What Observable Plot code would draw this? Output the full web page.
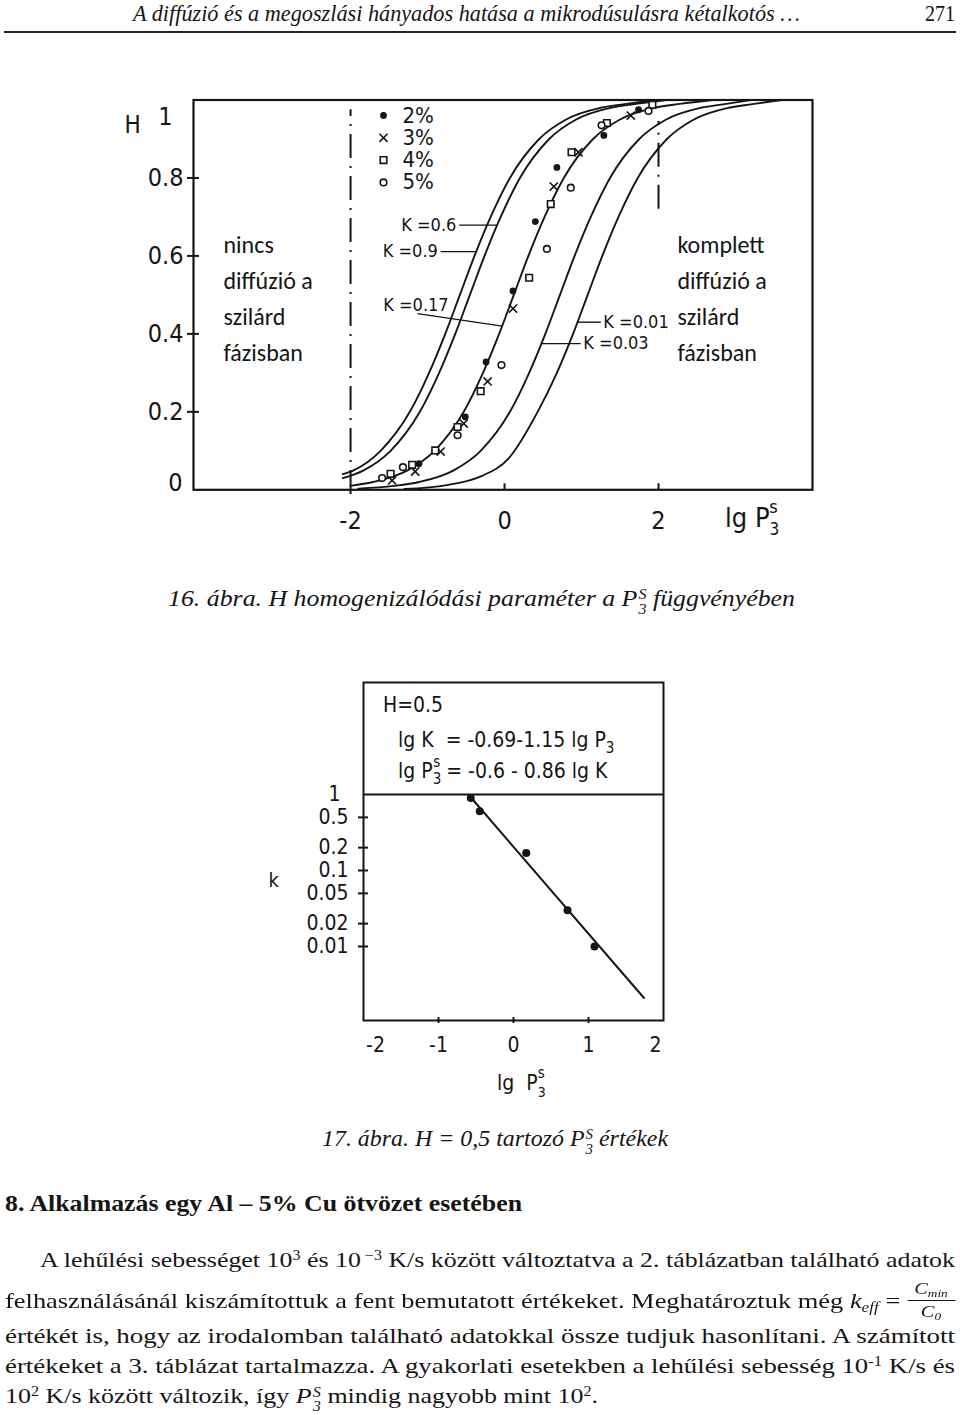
<!DOCTYPE html>
<html>
<head>
<meta charset="utf-8">
<script src="https://cdn.jsdelivr.net/npm/d3@7"></script>
<script src="https://cdn.jsdelivr.net/npm/@observablehq/plot@0.6"></script>
<style>
html,body{margin:0;padding:0;background:#fff;}
#page{position:relative;width:960px;height:1415px;overflow:hidden;color:#151515;font-family:"Liberation Serif","Times New Roman",serif;}
.t{position:absolute;white-space:nowrap;line-height:26px;font-size:22px;transform-origin:0 0;}
.t sup{font-size:0.62em;vertical-align:0.55em;line-height:0;}
.t sub{font-size:0.65em;vertical-align:-0.25em;line-height:0;}
.ps{display:inline-flex;flex-direction:column;font-size:0.62em;line-height:1.0;vertical-align:0.45em;margin-left:1px;font-style:italic;}
.ps span{display:block;}
.frac{display:inline-block;position:relative;width:40px;height:10px;vertical-align:baseline;font-style:italic;}
.frac .num{position:absolute;left:0;right:0;text-align:center;bottom:11px;font-size:17px;line-height:17px;}
.frac .den{position:absolute;left:0;right:0;text-align:center;top:2px;padding-top:2px;font-size:17px;line-height:17px;border-top:1.5px solid #151515;}
.rule{position:absolute;left:4px;width:952px;top:31px;height:2px;background:#222;}
.chart{position:absolute;left:0;}
</style>
</head>
<body>
<div id="page">
  <div class="t" id="hdr"><i>A diffúzió és a megoszlási hányados hatása a mikrodúsulásra kétalkotós …</i></div>
  <div class="t" id="pgno">271</div>
  <div class="rule"></div>
  <div class="chart" id="c1" style="top:60px"></div>
  <div class="t" id="cap16"><i>16. ábra. H homogenizálódási paraméter a P</i><span class="ps"><span>S</span><span>3</span></span><i> függvényében</i></div>
  <div class="chart" id="c2" style="top:660px"></div>
  <div class="t" id="cap17"><i>17. ábra. H = 0,5 tartozó P</i><span class="ps"><span>S</span><span>3</span></span><i> értékek</i></div>
  <div class="t" id="h8"><b>8. Alkalmazás egy Al – 5% Cu ötvözet esetében</b></div>
  <div class="t" id="l1">A lehűlési sebességet 10<sup>3</sup> és 10<sup> −3</sup> K/s között változtatva a 2. táblázatban található adatok</div>
  <div class="t" id="l2">felhasználásánál kiszámítottuk a fent bemutatott értékeket. Meghatároztuk még <i>k<sub>eff</sub></i> = <span class="frac"><span class="num">C<sub>min</sub></span><span class="den">C<sub>0</sub></span></span></div>
  <div class="t" id="l3">értékét is, hogy az irodalomban található adatokkal össze tudjuk hasonlítani. A számított</div>
  <div class="t" id="l4">értékeket a 3. táblázat tartalmazza. A gyakorlati esetekben a lehűlési sebesség 10<sup>-1</sup> K/s és</div>
  <div class="t" id="l5">10<sup>2</sup> K/s között változik, így <i>P</i><span class="ps"><span>S</span><span>3</span></span> mindig nagyobb mint 10<sup>2</sup>.</div>
</div>
<script>
// ---------------- Chart 1 (16. ábra) data ----------------
const curveKs = ["0.9", "0.6", "0.17", "0.03", "0.01"];
const curveLgP = [
  [-2.10, -1.96, -1.61, -1.23, -0.98, -0.77, -0.58, -0.39, -0.18, 0.07, 0.45, 0.80, 1.25, 1.58, 1.95],
  [-2.10, -1.83, -1.48, -1.10, -0.85, -0.64, -0.45, -0.26, -0.05, 0.20, 0.58, 0.93, 1.38, 1.71, 2.10],
  [-2.00, -1.71, -1.26, -0.91, -0.53, -0.28, -0.07, 0.12, 0.31, 0.52, 0.77, 1.15, 1.50, 1.95, 2.28, 2.70],
  [-1.90, -1.44, -1.11, -0.66, -0.31, 0.07, 0.32, 0.53, 0.72, 0.91, 1.12, 1.37, 1.75, 2.10, 2.55, 2.88, 3.20],
  [-1.30, -0.75, -0.30, 0.05, 0.43, 0.68, 0.89, 1.08, 1.27, 1.48, 1.73, 2.11, 2.46, 2.91, 3.24, 3.60]
];
const curveH = [
  [0.04, 0.05, 0.10, 0.20, 0.30, 0.40, 0.50, 0.60, 0.70, 0.80, 0.90, 0.95, 0.98, 0.99, 1.00],
  [0.03, 0.05, 0.10, 0.20, 0.30, 0.40, 0.50, 0.60, 0.70, 0.80, 0.90, 0.95, 0.98, 0.99, 1.00],
  [0.01, 0.02, 0.05, 0.10, 0.20, 0.30, 0.40, 0.50, 0.60, 0.70, 0.80, 0.90, 0.95, 0.98, 0.99, 1.00],
  [0.003, 0.01, 0.02, 0.05, 0.10, 0.20, 0.30, 0.40, 0.50, 0.60, 0.70, 0.80, 0.90, 0.95, 0.98, 0.99, 1.00],
  [0.002, 0.012, 0.035, 0.08, 0.20, 0.30, 0.40, 0.50, 0.60, 0.70, 0.80, 0.90, 0.95, 0.98, 0.99, 1.00]
];
const seriesNames = ["2%", "3%", "4%", "5%"];
const pts2_lgP = [-1.11, -0.51, -0.24, 0.11, 0.40, 0.68, 1.29, 1.74];
const pts2_H   = [0.067, 0.187, 0.328, 0.510, 0.688, 0.827, 0.909, 0.975];
const pts3_lgP = [-1.46, -1.16, -0.83, -0.53, -0.22, 0.11, 0.64, 0.96, 1.64];
const pts3_H   = [0.024, 0.047, 0.098, 0.170, 0.278, 0.465, 0.778, 0.866, 0.960];
const pts4_lgP = [-1.48, -1.20, -0.90, -0.61, -0.31, 0.32, 0.60, 0.87, 1.33, 1.92];
const pts4_H   = [0.041, 0.064, 0.101, 0.161, 0.253, 0.544, 0.733, 0.866, 0.941, 0.988];
const pts5_lgP = [-1.59, -1.32, -0.61, -0.04, 0.55, 0.86, 1.26, 1.87];
const pts5_H   = [0.030, 0.058, 0.140, 0.320, 0.618, 0.775, 0.935, 0.972];

const labelK      = ["0.6", "0.9", "0.17", "0.01", "0.03"];
const labelSide   = ["end", "end", "end", "start", "start"];
const labelTextX  = [-0.60, -0.84, -0.70, 1.27, 1.01];
const labelTextH  = [0.679, 0.611, 0.474, 0.430, 0.375];
const leaderX1    = [-0.59, -0.83, -1.13, 1.25, 0.99];
const leaderH1    = [0.679, 0.611, 0.452, 0.430, 0.375];
const leaderX2    = [-0.09, -0.37, -0.03, 0.95, 0.48];
const leaderH2    = [0.679, 0.611, 0.420, 0.430, 0.375];

const boundaryX  = [-2, 2];
const boundaryH1 = [-0.012, 0.72];
const boundaryH2 = [0.975, 0.945];

const regionText = ["nincs\ndiffúzió a\nszilárd\nfázisban", "komplett\ndiffúzió a\nszilárd\nfázisban"];

const yTicks1 = [0, 0.2, 0.4, 0.6, 0.8, 1];
const yTickLabels1 = ["0", "0.2", "0.4", "0.6", "0.8", "1"];
const xTicks1 = [-2, 0, 2];
const xTickLabels1 = ["-2", "0", "2"];

// ---------------- Chart 2 (17. ábra) data ----------------
const kTicks = [1, 0.5, 0.2, 0.1, 0.05, 0.02, 0.01];
const kTickLabels = ["1", "0.5", "0.2", "0.1", "0.05", "0.02", "0.01"];
const xTicks2 = [-2, -1, 0, 1, 2];
const xTickLabels2 = ["-2", "-1", "0", "1", "2"];
const h05_lgP = [-0.57, -0.45, 0.17, 0.72, 1.08];
const h05_k   = [0.9, 0.6, 0.17, 0.03, 0.01];
const fit_lgP = [-0.57, 1.74];
const fit_k   = [0.92, 0.0021];

// ---------------- build ----------------
const INK = "#151515";
const CF = "'DejaVu Sans Condensed','DejaVu Sans',sans-serif";
const SANS = "Carlito, Lato, 'Open Sans', sans-serif";

const curveRows = curveKs.flatMap((k, i) => curveLgP[i].map((x, j) => ({k, lgP: x, H: curveH[i][j]})));
const zipPts = (xs, ys) => xs.map((x, i) => ({lgP: x, H: ys[i]}));
const labelRows = labelK.map((k, i) => ({k, side: labelSide[i], tx: labelTextX[i], th: labelTextH[i],
  x1: leaderX1[i], h1: leaderH1[i], x2: leaderX2[i], h2: leaderH2[i]}));

const symStyles = [
  {fill: INK, stroke: "none", r: 3.4},
  {symbol: "times", stroke: INK, strokeWidth: 1.6, r: 3.8},
  {symbol: "square", stroke: INK, fill: "white", strokeWidth: 1.6, r: 3.7},
  {symbol: "circle", stroke: INK, fill: "white", strokeWidth: 1.6, r: 3.3}
];
const ptsSets = [zipPts(pts2_lgP, pts2_H), zipPts(pts3_lgP, pts3_H), zipPts(pts4_lgP, pts4_H), zipPts(pts5_lgP, pts5_H)];

const legendMarks = seriesNames.flatMap((name, i) => [
  Plot.dot([name], {frameAnchor: "top-left", dx: 190, dy: 15.5 + i * 22.3, ...symStyles[i]}),
  Plot.text([name], {frameAnchor: "top-left", dx: 209, dy: 15.5 + i * 22.3, text: d => d, textAnchor: "start",
    lineAnchor: "middle", fontSize: 22, fontWeight: 500, fill: INK})
]);

const c1 = Plot.plot({
  width: 960, height: 490,
  marginLeft: 193, marginRight: 148, marginTop: 39.5, marginBottom: 60.7,
  x: {domain: [-4.04, 4.0], label: null},
  y: {domain: [0, 1], label: null},
  style: {fontFamily: CF, color: INK, background: "transparent", overflow: "visible"},
  marks: [
    Plot.ruleX(boundaryX, {x: d => d, y1: (d, i) => boundaryH1[i], y2: (d, i) => boundaryH2[i],
      stroke: INK, strokeWidth: 2, strokeDasharray: "24,8,2,8"}),
    Plot.line(curveRows, {x: "lgP", y: "H", z: "k", curve: "monotone-x", stroke: INK, strokeWidth: 1.9}),
    Plot.link(labelRows, {x1: "x1", y1: "h1", x2: "x2", y2: "h2", stroke: INK, strokeWidth: 1.4}),
    Plot.text(labelRows.filter(d => d.side === "end"), {x: "tx", y: "th", text: d => "K =" + d.k,
      textAnchor: "end", dx: -2, fontSize: 18, fill: INK}),
    Plot.text(labelRows.filter(d => d.side === "start"), {x: "tx", y: "th", text: d => "K =" + d.k,
      textAnchor: "start", dx: 1, fontSize: 18, fill: INK}),
    ...ptsSets.map((pts, i) => Plot.dot(pts, {x: "lgP", y: "H", ...symStyles[i]})),
    ...legendMarks,
    Plot.text([regionText[0]], {frameAnchor: "top-left", dx: 30, dy: 127, text: d => d, textAnchor: "start",
      lineAnchor: "top", lineHeight: 1.5, fontSize: 24, fontFamily: SANS, fill: INK}),
    Plot.text([regionText[1]], {frameAnchor: "top-right", dx: -135, dy: 127, text: d => d, textAnchor: "start",
      lineAnchor: "top", lineHeight: 1.5, fontSize: 24, fontFamily: SANS, fill: INK}),
    Plot.frame({stroke: INK, strokeWidth: 2.2}),
    Plot.axisY({ticks: yTicks1.slice(1, 5), tickSize: 12, dx: 6, tickFormat: () => "", strokeWidth: 2, label: null}),
    Plot.text(yTicks1.slice(1, 5), {y: d => d, frameAnchor: "left", dx: -10, textAnchor: "end", fontSize: 25, fill: INK,
      text: d => yTickLabels1[yTicks1.indexOf(d)]}),
    Plot.text([yTicks1[0]], {y: d => d, frameAnchor: "left", dx: -11, dy: -7, textAnchor: "end", fontSize: 25, fill: INK,
      text: d => yTickLabels1[yTicks1.indexOf(d)]}),
    Plot.text([yTicks1[5]], {y: d => d, frameAnchor: "left", dx: -21, dy: 17, textAnchor: "end", fontSize: 25, fill: INK,
      text: d => yTickLabels1[yTicks1.indexOf(d)]}),
    Plot.axisX({ticks: xTicks1.slice(1), tickSize: 6, dy: -6, tickFormat: () => "", strokeWidth: 2, label: null}),
    Plot.text(xTicks1, {x: d => d, frameAnchor: "bottom", dy: 31, lineAnchor: "middle", fontSize: 25, fill: INK,
      text: d => xTickLabels1[xTicks1.indexOf(d)]}),
    Plot.text(["H"], {frameAnchor: "top-left", dx: -69, dy: 25.5, text: d => d, lineAnchor: "middle", fontSize: 24, fill: INK})
  ]
});
document.getElementById("c1").appendChild(c1);

const c2 = Plot.plot({
  width: 960, height: 460,
  marginLeft: 363, marginRight: 297, marginTop: 22, marginBottom: 100,
  x: {domain: [-2, 2], label: null},
  y: {type: "log", domain: [Math.pow(10, -2.974), Math.pow(10, 1.474)], label: null},
  style: {fontFamily: CF, color: INK, background: "transparent", overflow: "visible"},
  marks: [
    Plot.ruleY([kTicks[0]], {stroke: INK, strokeWidth: 2}),
    Plot.line(fit_lgP.map((x, i) => ({lgP: x, k: fit_k[i]})), {x: "lgP", y: "k", stroke: INK, strokeWidth: 2}),
    Plot.dot(h05_lgP.map((x, i) => ({lgP: x, k: h05_k[i]})), {x: "lgP", y: "k", r: 4, fill: INK}),
    Plot.frame({stroke: INK, strokeWidth: 2}),
    Plot.axisY({ticks: kTicks.slice(1), tickSize: 10, dx: 5, tickFormat: () => "", strokeWidth: 2, label: null}),
    Plot.text(kTicks.slice(1), {y: d => d, frameAnchor: "left", dx: -15, textAnchor: "end", fontSize: 21, fill: INK,
      text: d => kTickLabels[kTicks.indexOf(d)]}),
    Plot.text([kTicks[0]], {y: d => d, frameAnchor: "left", dx: -23, textAnchor: "end", fontSize: 21, fill: INK,
      text: d => kTickLabels[kTicks.indexOf(d)]}),
    Plot.axisX({ticks: xTicks2.slice(1, 4), tickSize: 6, dy: -3, tickFormat: () => "", strokeWidth: 2, label: null}),
    Plot.text(xTicks2.slice(1, 4), {x: d => d, frameAnchor: "bottom", dy: 25, lineAnchor: "middle", fontSize: 21, fill: INK,
      text: d => xTickLabels2[xTicks2.indexOf(d)]}),
    Plot.text([xTicks2[0]], {x: d => d, frameAnchor: "bottom", dx: 12, dy: 25, lineAnchor: "middle", fontSize: 21, fill: INK,
      text: d => xTickLabels2[xTicks2.indexOf(d)]}),
    Plot.text([xTicks2[4]], {x: d => d, frameAnchor: "bottom", dx: -8, dy: 25, lineAnchor: "middle", fontSize: 21, fill: INK,
      text: d => xTickLabels2[xTicks2.indexOf(d)]}),
    Plot.text(["k"], {frameAnchor: "left", dx: -95, dy: 29, text: d => d, lineAnchor: "middle", fontSize: 20, fill: INK})
  ]
});
document.getElementById("c2").appendChild(c2);

// rich text (sub/superscripts) inside the charts
function richText(svg, x, y, size, parts) {
  const t = d3.select(svg).append("text").attr("x", x).attr("y", y).attr("font-size", size)
    .attr("text-anchor", "start").attr("font-family", CF).attr("fill", INK).style("white-space", "pre");
  parts.forEach(p => {
    const ts = t.append("tspan").text(p.text);
    if (p.dx) ts.attr("dx", p.dx);
    if (p.dy) ts.attr("dy", p.dy);
    if (p.size) ts.attr("font-size", p.size);
  });
}
richText(c1, 725, 467, 27, [{text: "lg P"}, {text: "3", size: 17, dy: 8}, {text: "s", size: 18, dx: -10, dy: -22}]);
richText(c2, 497, 430, 21, [{text: "lg  P"}, {text: "3", size: 14, dy: 7}, {text: "s", size: 15, dx: -8, dy: -19}]);
richText(c2, 383, 52, 21, [{text: "H=0.5"}]);
richText(c2, 398, 87, 21, [{text: "lg K  = -0.69-1.15 lg P"}, {text: "3", size: 15, dy: 6}]);
richText(c2, 398, 118, 21, [{text: "lg P"}, {text: "3", size: 15, dy: 6}, {text: "s", size: 15, dx: -8, dy: -17},
  {text: " = -0.6 - 0.86 lg K", dy: 11}]);

// page text layout: [id, left, right, baseline, font size]
const textLayout = [
  ["hdr", 133, 800, 21, 23],
  ["pgno", 925, 955, 21, 23],
  ["cap16", 168, 795, 606, 23],
  ["cap17", 322, 668, 1146, 23],
  ["h8", 5, 522, 1211, 23],
  ["l1", 40, 955, 1267, 22],
  ["l2", 5, 955, 1308, 22],
  ["l3", 5, 955, 1343, 22],
  ["l4", 5, 955, 1373, 22],
  ["l5", 5, 598, 1403, 22]
];
textLayout.forEach(([id, L, R, base, fs]) => {
  const el = document.getElementById(id);
  el.style.fontSize = fs + "px";
  el.style.left = L + "px";
  el.style.top = (base - (0.891 * fs + (26 - 1.149 * fs) / 2)) + "px";
  const w = el.getBoundingClientRect().width;
  el.style.transform = `scaleX(${(R - L) / w})`;
});
</script>
</body>
</html>
